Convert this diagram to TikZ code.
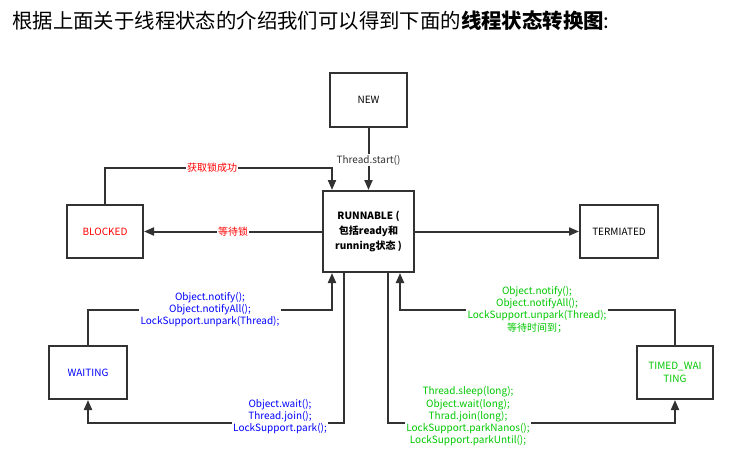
\documentclass[tikz,border=0pt]{standalone}
\usepackage{fontspec}
\setmainfont{Noto Sans CJK SC}
\usetikzlibrary{arrows.meta}
\newdimen\pxu \pxu=0.75pt
\definecolor{lblred}{RGB}{255,0,0}
\definecolor{lblblue}{RGB}{0,0,255}
\definecolor{lblgreen}{RGB}{0,200,0}
\definecolor{linegray}{RGB}{50,50,50}
\begin{document}
\begin{tikzpicture}[x=0.75pt,y=-0.75pt,
  box/.style={draw=linegray,line width=1.5pt,fill=white,align=center,inner sep=0pt,
    font=\fontsize{7.5pt}{9.2pt}\selectfont},
  conn/.style={draw=linegray,line width=1.5pt,-{Triangle[length=7.5pt,width=6pt]}},
  lbl/.style={fill=white,inner sep=1pt,align=center,font=\fontsize{7.5pt}{9.2pt}\selectfont}
]
\useasboundingbox (0,0) rectangle (731,457);
\node[anchor=west,inner sep=0pt,font=\fontsize{15.3pt}{18pt}\selectfont] (title) at (12,21)
  {根据上面关于线程状态的介绍我们可以得到下面的\textbf{线程状态转换图}:};

\node[box,minimum width=77\pxu,minimum height=54\pxu] (new) at (368.5,100) {NEW};
\node[box,minimum width=91\pxu,minimum height=81\pxu,font=\fontsize{7.5pt}{11pt}\selectfont\bfseries] (run) at (368.5,231.5)
  {RUNNABLE (\\包括ready和\\running状态 )};
\node[box,minimum width=76\pxu,minimum height=53\pxu,text=lblred] (blk) at (105,231.5) {BLOCKED};
\node[box,minimum width=78\pxu,minimum height=53\pxu] (term) at (619,231.5) {TERMIATED};
\node[box,minimum width=78\pxu,minimum height=53\pxu,text=lblblue] (wait) at (88,372.5) {WAITING};
\node[box,minimum width=76\pxu,minimum height=53\pxu,text=lblgreen] (timed) at (675,372.5) {TIMED\_WAI\\TING};

\coordinate (c1) at (332,168);
\coordinate (c2) at (332,310);
\coordinate (c3) at (344,423);
\coordinate (c4) at (400,310);
\coordinate (c5) at (388,423);

% NEW -> RUNNABLE
\draw[conn] (new.south) -- (run.north);
\node[lbl,text=linegray] (lstart) at (368.5,160) {Thread.start()};

% BLOCKED -> RUNNABLE
\draw[conn] (blk.north) |- (c1) -- (c1 |- run.north);
\node[lbl,text=lblred] (lacq) at (212,168) {获取锁成功};

% RUNNABLE -> BLOCKED
\draw[conn] (run.west) -- (blk.east);
\node[lbl,text=lblred] (lwait) at (233,231.5) {等待锁};

% RUNNABLE -> TERMINATED
\draw[conn] (run.east) -- (term.west);

% WAITING -> RUNNABLE
\draw[conn] (wait.north) |- (c2) -- (c2 |- run.south);
\node[lbl,text=lblblue] (lwu) at (210,309.5) {Object.notify();\\Object.notifyAll();\\LockSupport.unpark(Thread);};

% RUNNABLE -> WAITING
\draw[conn] (c3 |- run.south) -- (c3) -| (wait.south);
\node[lbl,text=lblblue] (lwd) at (280,416.5) {Object.wait();\\Thread.join();\\LockSupport.park();};

% TIMED -> RUNNABLE
\draw[conn] (timed.north) |- (c4) -- (c4 |- run.south);
\node[lbl,text=lblgreen] (ltu) at (537,309.5) {Object.notify();\\Object.notifyAll();\\LockSupport.unpark(Thread);\\等待时间到；};

% RUNNABLE -> TIMED
\draw[conn] (c5 |- run.south) -- (c5) -| (timed.south);
\node[lbl,text=lblgreen] (ltd) at (468,416.5) {Thread.sleep(long);\\Object.wait(long);\\Thrad.join(long);\\LockSupport.parkNanos();\\LockSupport.parkUntil();};
\end{tikzpicture}
\end{document}
